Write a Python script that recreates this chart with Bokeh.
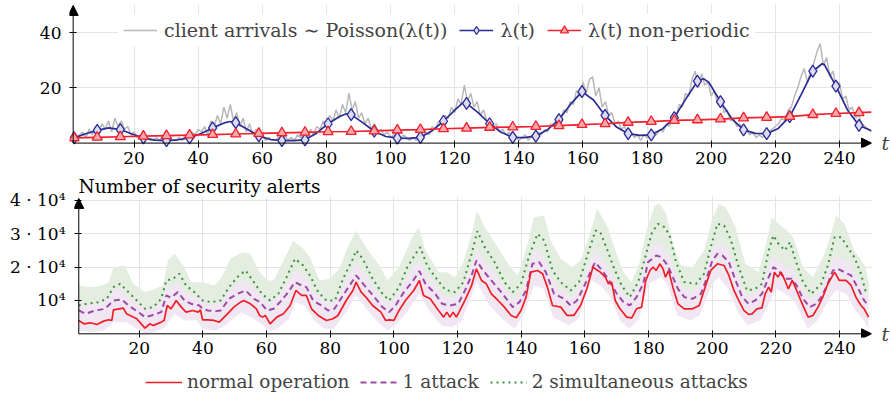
from bokeh.plotting import figure
from bokeh.layouts import column
from bokeh.models import (Range1d, FixedTicker, Legend, LegendItem, Title,
                          Arrow, NormalHead, LinearAxis)
from bokeh.embed import file_html
from bokeh.resources import INLINE

FONT = "DejaVu Serif"

# ---------------- top chart data ----------------
arr_t = list(range(1, 251))
arr_v = [2, 1, 3, 4, 2, 5, 3, 6, 4, 7,
         5, 8, 4, 9, 6, 8, 5, 6, 3, 4,
         2, 3, 1, 2, 1, 1, 2, 1, 3, 1,
         2, 1, 1, 2, 1, 3, 2, 4, 3, 5,
         4, 6, 3, 8, 6, 10, 7, 13, 9, 14,
         8, 11, 6, 9, 4, 7, 3, 5, 2, 3,
         1, 2, 1, 1, 2, 1, 3, 1, 2, 1,
         3, 2, 4, 2, 5, 3, 6, 5, 8, 7,
         10, 8, 12, 9, 14, 11, 18, 12, 15, 9,
         11, 7, 9, 5, 7, 4, 5, 3, 4, 2,
         3, 2, 1, 3, 2, 1, 2, 1, 3, 2,
         4, 3, 6, 5, 8, 7, 10, 9, 13, 11,
         16, 14, 21, 15, 18, 13, 15, 10, 12, 8,
         9, 6, 7, 4, 5, 3, 4, 2, 3, 1,
         2, 3, 1, 3, 2, 4, 3, 5, 4, 7,
         6, 9, 8, 12, 11, 15, 14, 19, 17, 22,
         18, 23, 24, 17, 20, 13, 15, 10, 11, 7,
         8, 5, 6, 3, 4, 2, 3, 1, 3, 2,
         2, 4, 3, 5, 4, 7, 6, 10, 9, 14,
         13, 18, 17, 23, 26, 20, 25, 21, 22, 17,
         19, 14, 16, 11, 12, 8, 9, 6, 7, 4,
         5, 3, 4, 2, 3, 2, 3, 4, 5, 6,
         7, 9, 8, 12, 13, 17, 20, 24, 27, 22,
         26, 29, 33, 36, 28, 31, 24, 26, 20, 22,
         16, 17, 12, 13, 9, 10, 7, 6, 5, 4]

lam_t = [1.3, 4.9, 8.5, 12.1, 15.7, 19.3, 22.9, 26.5, 30.1, 33.7,
         37.3, 40.9, 44.5, 48.1, 50.0, 51.7, 55.3, 58.9, 62.5, 66.1,
         69.7, 73.3, 76.9, 80.5, 84.1, 86.2, 87.7, 91.3, 94.9, 98.5,
         102.1, 105.7, 109.3, 112.9, 116.5, 120.1, 122.6, 123.7, 127.3, 130.9,
         134.5, 138.1, 141.7, 145.3, 148.9, 152.5, 156.1, 159.7, 163.3, 166.9,
         170.5, 174.1, 177.7, 181.3, 184.9, 188.5, 192.1, 195.7, 197.6, 199.3,
         202.9, 206.5, 210.1, 213.7, 217.3, 220.9, 224.5, 228.1, 231.7, 234.6,
         235.3, 238.9, 242.5, 246.1, 250.0]
lam_v = [1.9, 3.4, 4.6, 5.5, 4.9, 3.3, 1.9, 1.1, 0.9, 1.2,
         1.9, 3.5, 5.5, 7.3, 7.8, 7.4, 5.0, 2.6, 1.3, 0.9,
         0.9, 1.2, 3.6, 7.0, 9.6, 10.6, 10.3, 7.4, 4.3, 2.4,
         1.8, 1.7, 2.1, 4.4, 7.9, 12.0, 14.6, 14.4, 11.0, 7.0,
         3.9, 2.1, 2.0, 2.5, 4.8, 8.5, 14.0, 18.6, 15.6, 10.0,
         5.8, 3.4, 2.8, 3.0, 5.2, 9.2, 16.0, 22.4, 23.3, 21.9,
         15.0, 8.7, 4.8, 3.5, 3.4, 5.3, 9.6, 17.6, 26.0, 28.7,
         28.4, 20.6, 12.0, 6.4, 4.5]

mark_t = [1.3, 8.5, 15.7, 22.9, 30.1, 37.3, 44.5, 51.7, 58.9, 66.1,
          73.3, 80.5, 87.7, 94.9, 102.1, 109.3, 116.5, 123.7, 130.9, 138.1,
          145.3, 152.5, 159.7, 166.9, 174.1, 181.3, 188.5, 195.7, 202.9, 210.1,
          217.3, 224.5, 231.7, 238.9, 246.1]

np_t = mark_t + [250.0]
np_v = [1.9, 2.1, 2.3, 2.5, 2.7, 2.9, 3.1, 3.3, 3.5, 3.7,
        3.9, 4.1, 4.2, 4.4, 4.7, 4.9, 5.2, 5.4, 5.7, 5.8,
        6.0, 6.3, 6.7, 7.0, 7.5, 7.8, 8.2, 8.4, 8.7, 9.1,
        9.3, 9.6, 10.3, 10.7, 11.0, 11.2]

top_xticks = [20, 40, 60, 80, 100, 120, 140, 160, 180, 200, 220, 240]
top_yticks = [20, 40]

# ---------------- bottom chart data ----------------
red_t = [1, 2.6, 4.7, 6.7, 8.8, 10.4, 11.4, 11.9, 15, 16,
         17.1, 19.2, 21.8, 23.3, 24.4, 26.9, 27.8, 28.8, 30, 31.6,
         33.2, 34.7, 36.8, 38.5, 39.2, 39.9, 41.5, 43.5, 45.1, 47.7,
         49.7, 51.8, 52.8, 54.9, 56.8, 57.8, 58.7, 59.6, 61.1, 63.2,
         65.3, 67.4, 69.2, 71, 72.5, 74.1, 76.2, 78.8, 80.85, 82.4,
         85, 87.1, 88.1, 89.7, 91.2, 93.3, 95.9, 97.4, 98.5, 100,
         101.6, 103.6, 106.2, 108, 109.3, 111.4, 112.5, 114, 115.6, 116.6,
         117.6, 118.6, 119.6, 120.7, 122.3, 124.4, 125.9, 127.5, 129, 130.6,
         132.7, 134.7, 136.8, 138.4, 139.9, 141.5, 143, 145.1, 146.7, 148.2,
         149.8, 152.4, 154.4, 156.5, 158.6, 160.6, 162.5, 164, 164.8, 166.4,
         167.4, 168.4, 169.5, 171, 173.1, 174.7, 176.2, 177.8, 179.1, 180.4,
         181.4, 182.4, 183.5, 184.5, 185.3, 186.3, 187.6, 189.2, 191.2, 193.8,
         195.9, 197.4, 199.5, 201.6, 203.7, 205.2, 206.8, 208.3, 209.9, 211.4,
         212.5, 214, 215.6, 216.6, 217.7, 218.5, 219.5, 220.6, 221.6, 222.8,
         223.9, 225.1, 226.5, 228, 230.1, 231.6, 233.2, 234.7, 236.3, 238.4,
         239.9, 242, 243.6, 245.1, 246.7, 247.7, 249.1]
red_v = [4000, 3000, 3300, 2800, 3800, 4200, 4000, 7200, 7700, 6000,
         5500, 4500, 1700, 3000, 2500, 3500, 4000, 8500, 7500, 10000,
         8000, 6500, 7000, 6500, 7200, 4200, 4200, 4000, 3500, 6000,
         8000, 9500, 10000, 9000, 7500, 5500, 5000, 5500, 3000, 5000,
         6000, 8500, 13000, 11500, 11500, 7500, 5500, 4000, 4500, 5500,
         10000, 13000, 15500, 12500, 11000, 8500, 6500, 4000, 4200, 4000,
         7000, 10000, 13000, 16000, 11500, 10500, 9000, 7000, 5000, 6500,
         5000, 6500, 5000, 7000, 10000, 14500, 19500, 16000, 15000, 12000,
         10000, 8000, 5500, 4800, 7000, 11000, 18500, 19000, 18000, 14000,
         8500, 8000, 5500, 5500, 8500, 13500, 20000, 19000, 18500, 17000,
         15000, 15500, 10000, 7500, 5000, 4800, 7500, 8000, 16000, 19000,
         20000, 19000, 21000, 19500, 17000, 19000, 14000, 9000, 7500, 7500,
         8500, 13000, 19000, 21000, 20500, 17500, 13000, 10000, 7000, 5800,
         6000, 7500, 7800, 12000, 14000, 12500, 18500, 17000, 18500, 16000,
         13500, 16000, 13000, 9500, 5000, 5500, 8000, 11000, 15000, 18500,
         16000, 16000, 14500, 11000, 8500, 7500, 5000]

pu_t = [1, 3.1, 6.2, 9.3, 11.9, 14.5, 16.6, 19.7, 21.8, 23.8,
        26.9, 28.5, 30, 32.1, 34.2, 36.3, 38.9, 39.9, 41.5, 44,
        45.6, 48.2, 50.8, 53.4, 56, 58, 60.1, 62.2, 64.2, 66.8,
        68.9, 71, 72.5, 74.6, 77.2, 79.3, 81.3, 84, 87.1, 88.1,
        91.2, 94.3, 96.4, 98.5, 100.5, 103.1, 105.7, 108, 109.9, 113,
        115.1, 117.6, 120.2, 122.3, 124.4, 125.9, 128, 130.6, 133.7, 137.3,
        139.4, 141.5, 143.5, 145.6, 147.7, 150.3, 153.4, 155.5, 157.5, 159.6,
        161.7, 163.2, 165.8, 167.9, 170, 172.1, 174.1, 176.2, 178.3, 179.8,
        182.4, 184, 186, 187.6, 189.2, 191.2, 193.8, 196.4, 198, 200,
        201.6, 203.2, 205.2, 207.3, 209.4, 211.4, 213.5, 215.6, 217.7, 219.2,
        220.8, 222.8, 224.9, 226.5, 228.5, 230.6, 232.7, 234.2, 235.8, 237.9,
        239.4, 241.5, 243.6, 245.6, 247.7, 249]
pu_v = [7000, 6000, 7000, 7500, 10000, 10300, 8500, 6500, 5000, 5500,
        6500, 11500, 10800, 12500, 10000, 9000, 8500, 7500, 7000, 6800,
        7000, 10500, 12000, 13000, 10500, 9500, 7000, 7500, 9500, 12500,
        15500, 14500, 14000, 10000, 8500, 7000, 7500, 11500, 16000, 17500,
        14000, 10500, 8000, 6500, 8500, 12500, 15500, 18800, 15000, 12000,
        9000, 8500, 9000, 13000, 17500, 22000, 19000, 16000, 12500, 8000,
        9500, 13000, 21000, 21500, 18500, 12000, 10500, 8500, 10000, 14000,
        18500, 21500, 18500, 15500, 12000, 9500, 8500, 11000, 15000, 21500,
        23500, 23000, 20500, 17000, 13500, 11000, 10500, 12000, 16000, 22000,
        24000, 23500, 21500, 16000, 11000, 9000, 10000, 12000, 17000, 20000,
        19000, 16500, 16500, 14500, 10500, 8000, 9000, 11000, 14000, 19000,
        19500, 18500, 17500, 14000, 10000, 8500]
pu_hi = [9500, 8500, 9000, 10000, 13000, 13500, 11000, 9000, 7500, 8000,
         9000, 14500, 14000, 15500, 13000, 11500, 11000, 10000, 9500, 9000,
         9500, 13500, 15000, 16000, 13500, 12000, 9500, 10000, 12500, 15500,
         19000, 18000, 17000, 13000, 11000, 9500, 10000, 14500, 19500, 21000,
         17500, 13500, 10500, 9000, 11000, 15500, 19000, 22500, 18500, 15000,
         11500, 11000, 11500, 16000, 21000, 25500, 22500, 19500, 15500, 10500,
         12000, 16000, 24500, 25000, 22000, 15000, 13000, 11000, 12500, 17000,
         22000, 25000, 22000, 19000, 15000, 12000, 11000, 14000, 18500, 25000,
         27500, 27000, 24000, 20500, 16500, 13500, 13000, 15000, 19500, 25500,
         27500, 27000, 25000, 19500, 14000, 11500, 12500, 15000, 20500, 23500,
         22500, 20000, 20000, 17500, 13500, 10500, 11500, 14000, 17500, 22500,
         23000, 22000, 21000, 17000, 13000, 11000]

plo_t = [1, 5, 9, 12, 16, 20, 22, 25, 28, 31,
         34, 38, 40, 44, 47, 52, 56, 59, 61, 64,
         67, 69, 72, 75, 78, 81, 85, 88, 91, 95,
         98, 101, 104, 108, 111, 115, 118, 121, 124, 126,
         130, 134, 138, 141, 144, 147, 150, 155, 158, 162,
         165, 168, 171, 174, 177, 180, 184, 186, 189, 193,
         196, 200, 202, 205, 208, 211, 215, 218, 220, 223,
         226, 230, 233, 237, 239, 242, 245, 248, 249]
plo_v = [1000, 500, 1000, 3500, 3500, 1000, 0, 500, 2000, 6000,
         4000, 4000, 1500, 1000, 2500, 6500, 4500, 2500, 500, 2000,
         4500, 9500, 8500, 4000, 1500, 1500, 6500, 11500, 8000, 3500,
         1000, 3000, 6500, 12000, 7000, 2500, 2000, 3500, 10500, 15500,
         8500, 4500, 1500, 6500, 14500, 13500, 5000, 2500, 4500, 16000,
         14500, 11000, 4000, 1500, 4500, 15000, 17000, 14500, 5500, 4000,
         5500, 15000, 17000, 13500, 6500, 2500, 4000, 9500, 13500, 12000,
         9500, 1500, 4000, 11000, 13000, 12000, 7000, 3500, 1500]

gr_t = [1, 3.6, 7.3, 9.8, 11.9, 14, 16.6, 19.2, 21.8, 24.4,
        26.9, 28.5, 30.6, 32.6, 34.7, 37.3, 39.9, 42.5, 45.6, 48.2,
        50.8, 53.4, 56, 58.5, 61.1, 63.7, 66.3, 68.9, 71.5, 73.6,
        76.2, 78.8, 81.5, 84, 87.1, 88.1, 90.2, 93.3, 96.4, 98.5,
        101.6, 104.2, 106.8, 108.3, 110.4, 113, 116.1, 119.2, 121.8, 124.4,
        126.2, 128.5, 131.6, 134.7, 137.3, 139.9, 142.5, 145.1, 147.2, 149.8,
        152.4, 155.5, 158.1, 160.6, 163.3, 164.8, 166.9, 169, 171.5, 174.1,
        176.7, 178.8, 180.9, 182.9, 185, 186.6, 188.6, 191.2, 194.9, 197.4,
        199.5, 201.6, 203.7, 205.7, 208.3, 210.9, 213.5, 215.6, 217.7, 219.2,
        220.8, 222.8, 224.4, 226, 228.5, 231.1, 234.2, 236.3, 238.4, 240.5,
        242.5, 244.6, 246.7, 248.2]
gr_v = [8500, 9000, 9500, 10500, 14000, 15000, 12500, 10000, 7500, 8000,
        10500, 16000, 16500, 18000, 14500, 12500, 10000, 9500, 10000, 14000,
        17000, 19000, 15500, 12000, 10000, 12000, 17000, 22500, 20500, 17500,
        12500, 10000, 10000, 16500, 22500, 25000, 22500, 16500, 12000, 10000,
        14000, 20000, 24000, 26000, 20500, 17000, 13200, 12500, 15500, 24000,
        30800, 26000, 21500, 15500, 12500, 15000, 23500, 30000, 28000, 19000,
        15500, 13000, 15500, 23000, 31000, 30500, 25500, 20000, 14500, 11000,
        15500, 22500, 30000, 33000, 32000, 29500, 21500, 15500, 15000, 18000,
        26000, 33000, 32500, 28500, 20000, 13000, 13500, 15000, 25000, 29500,
        27000, 25000, 27500, 22500, 15500, 12000, 15000, 20500, 29000, 29000,
        26000, 23000, 18000, 12500]

gh_t = [1, 5.2, 8.3, 10.4, 11.9, 15.5, 18.1, 21.8, 24.9, 27.5,
        29, 31.1, 34.2, 36.3, 39.9, 43.5, 45.6, 48.7, 52.3, 54.9,
        57.5, 60.1, 62.2, 64.8, 68.4, 71.5, 73.6, 76.7, 79.8, 82.9,
        85, 88.1, 91.2, 95.4, 98, 101.6, 105.7, 107.8, 109.9, 114,
        116.6, 119.2, 121.8, 124.4, 126.1, 128.5, 131.6, 135.8, 138.9, 142,
        144, 147.2, 149.2, 152.4, 156, 158.6, 161.2, 163.8, 164.8, 167.4,
        169.5, 172.1, 174.7, 177.2, 179.3, 181.9, 183.5, 185.5, 187.6, 190.2,
        193.8, 197.4, 200, 202.1, 204.2, 207.3, 210.4, 214.5, 216.6, 218.7,
        220.8, 223.4, 225.4, 228.5, 231.6, 235.3, 238.9, 241.5, 244.6, 248.2,
        249.2]
gh_v = [14500, 14000, 14500, 15500, 20000, 20500, 15000, 12500, 13500, 14500,
        22000, 24000, 20000, 15500, 15500, 14500, 16500, 22500, 24500, 24000,
        19000, 16000, 16000, 21000, 28000, 25500, 23000, 16000, 16500, 19500,
        25000, 31000, 26000, 20500, 16000, 20000, 29000, 32000, 25000, 18500,
        18500, 17000, 21500, 30000, 37000, 32000, 27500, 21000, 17500, 27000,
        35000, 35500, 28000, 22500, 20000, 22000, 29000, 37500, 36000, 31500,
        25000, 18500, 15500, 21500, 31000, 38500, 39000, 36000, 27000, 20500,
        20000, 25000, 34500, 39000, 38000, 32000, 21000, 18500, 26000, 35000,
        33000, 31000, 29000, 20000, 17000, 24000, 35500, 33000, 25000, 20000,
        15000]

bot_xticks = [20, 40, 60, 80, 100, 120, 140, 160, 180, 200, 220, 240]
bot_yticks = [10000, 20000, 30000, 40000]
bot_ylabels = {10000: "10⁴", 20000: "2 · 10⁴", 30000: "3 · 10⁴", 40000: "4 · 10⁴"}

for a, b in [(arr_t, arr_v), (lam_t, lam_v), (np_t, np_v), (red_t, red_v),
             (pu_t, pu_v), (pu_t, pu_hi), (plo_t, plo_v), (gr_t, gr_v), (gh_t, gh_v)]:
    assert len(a) == len(b), (len(a), len(b))

GRID = "#e4e4e4"
C_RED, C_PUR, C_GRN = "#f01e26", "#9b4aa6", "#3f8f3f"


def style(p, xt, yt, ystand):
    p.outline_line_color = None
    p.background_fill_color = "white"
    p.border_fill_color = "white"
    p.frame_align = False
    p.xgrid.ticker = FixedTicker(ticks=xt)
    p.ygrid.ticker = FixedTicker(ticks=yt)
    for g in (p.xgrid, p.ygrid):
        g.grid_line_color = GRID
        g.grid_line_width = 1
    for ax, t in ((p.xaxis, xt), (p.yaxis, yt)):
        ax.ticker = FixedTicker(ticks=t)
        ax.axis_line_color = None
        ax.major_tick_line_color = "black"
        ax.major_tick_in = 7
        ax.major_tick_out = 0
        ax.minor_tick_line_color = None
        ax.major_label_text_font = FONT
        ax.major_label_text_font_size = "17px"
        ax.major_label_text_color = "black"
    p.xaxis.major_label_standoff = 4
    p.yaxis.major_label_standoff = ystand


def axis_arrows(p, x0, x1, y0, y1):
    for xs, ys, xe, ye in ((x0, y0, x1, y0), (x0, y0, x0, y1)):
        p.add_layout(Arrow(end=NormalHead(size=10, fill_color="black",
                                          line_color="black", line_width=1),
                           x_start=xs, y_start=ys, x_end=xe, y_end=ye,
                           line_color="black", line_width=1))


def t_label(p, standoff):
    ax = LinearAxis(ticker=FixedTicker(ticks=[0]), major_label_overrides={0: "t"},
                    axis_line_color=None, major_tick_line_color=None,
                    minor_tick_line_color=None, major_label_standoff=standoff,
                    major_label_text_font=FONT, major_label_text_font_size="19px",
                    major_label_text_font_style="italic")
    p.add_layout(ax, "right")


# ---------------- top figure (frame 69..873 x 4..147) ----------------
p1 = figure(width=892, height=172, output_backend="svg", toolbar_location=None,
            x_range=Range1d(-0.15, 250), y_range=Range1d(-1.59, 50.13),
            min_border_left=69, min_border_right=19, min_border_top=4,
            min_border_bottom=25)
style(p1, top_xticks, top_yticks, 8)

r_grey = p1.line(arr_t, arr_v, line_color="#b8b8b8", line_width=1.5)
r_blue = p1.line(lam_t, lam_v, line_color="#2b2b96", line_width=1.7)
mark_v = [lam_v[lam_t.index(t)] for t in mark_t]
r_blue_m = p1.scatter(mark_t, mark_v, marker="diamond", size=12,
                      line_color="#2b2b96", fill_color="#dcdcf2", line_width=1.3)
r_red = p1.line(np_t, np_v, line_color="#f0202c", line_width=1.7)
r_red_m = p1.scatter(np_t[:len(mark_t)], np_v[:len(mark_t)], marker="triangle",
                     size=10, line_color="#f0202c", fill_color="#f7a8ab",
                     line_width=1.3)

leg1 = Legend(items=[
    LegendItem(label="client arrivals ∼ Poisson(λ(t))", renderers=[r_grey]),
    LegendItem(label="λ(t)", renderers=[r_blue, r_blue_m]),
    LegendItem(label="λ(t) non-periodic", renderers=[r_red, r_red_m]),
], orientation="horizontal", location=(49, 101))
leg1.background_fill_color = "white"
leg1.background_fill_alpha = 1
leg1.border_line_alpha = 0
leg1.padding = 5
leg1.margin = 0
leg1.spacing = 12
leg1.label_standoff = 7
leg1.glyph_width = 34
leg1.glyph_height = 20
leg1.label_height = 20
leg1.label_text_font = FONT
leg1.label_text_font_size = "19px"
p1.add_layout(leg1)
axis_arrows(p1, 1, 250, 0, 49.8)
t_label(p1, 4)

# ---------------- bottom figure (frame 74..879 x 196..337) ----------------
p2 = figure(width=892, height=189, output_backend="svg", toolbar_location=None,
            x_range=Range1d(-0.34, 250), y_range=Range1d(-1110, 41190),
            min_border_left=74, min_border_right=13, min_border_top=24,
            min_border_bottom=24)
style(p2, bot_xticks, bot_yticks, 9)
p2.yaxis.major_label_overrides = bot_ylabels

p2.patch(gh_t + pu_t[::-1], gh_v + pu_v[::-1], fill_color="#e3eee0",
         line_color=None)
p2.patch(pu_t + plo_t[::-1], pu_hi + plo_v[::-1], fill_color="#f1e7f3",
         line_color=None)
p2.line(gr_t, gr_v, line_color=C_GRN, line_width=2, line_dash="2 4")
p2.line(pu_t, pu_v, line_color=C_PUR, line_width=2, line_dash="6 4")
p2.line(red_t, red_v, line_color=C_RED, line_width=1.7)

p2.title = Title(text="Number of security alerts", align="left", offset=4,
                 standoff=0, text_font=FONT, text_font_size="18.5px",
                 text_font_style="normal", text_color="black")
axis_arrows(p2, 1, 250, 0, 40600)
t_label(p2, 4)

# ---------------- legend strip for the bottom chart ----------------
p3 = figure(width=892, height=35, output_backend="svg", toolbar_location=None,
            x_range=Range1d(1000, 1001), y_range=Range1d(-10, -9),
            x_axis_location=None, y_axis_location=None,
            min_border_left=0, min_border_right=0, min_border_top=0,
            min_border_bottom=0)
p3.outline_line_color = None
p3.frame_align = False
p3.xgrid.visible = False
p3.ygrid.visible = False
l_r = p3.line(red_t, red_v, line_color=C_RED, line_width=1.7)
l_p = p3.line(pu_t, pu_v, line_color=C_PUR, line_width=2, line_dash="6 4")
l_g = p3.line(gr_t, gr_v, line_color=C_GRN, line_width=2, line_dash="2 4")
leg2 = Legend(items=[
    LegendItem(label="normal operation", renderers=[l_r]),
    LegendItem(label="1 attack", renderers=[l_p]),
    LegendItem(label="2 simultaneous attacks", renderers=[l_g]),
], orientation="horizontal", location=(145, 4))
leg2.background_fill_alpha = 0
leg2.border_line_alpha = 0
leg2.padding = 0
leg2.margin = 0
leg2.spacing = 11
leg2.label_standoff = 5
leg2.glyph_width = 37
leg2.glyph_height = 20
leg2.label_height = 20
leg2.label_text_font = FONT
leg2.label_text_font_size = "18.5px"
p3.add_layout(leg2)

layout = column(p1, p2, p3, spacing=0)
open("out.html", "w").write(file_html(layout, INLINE))
